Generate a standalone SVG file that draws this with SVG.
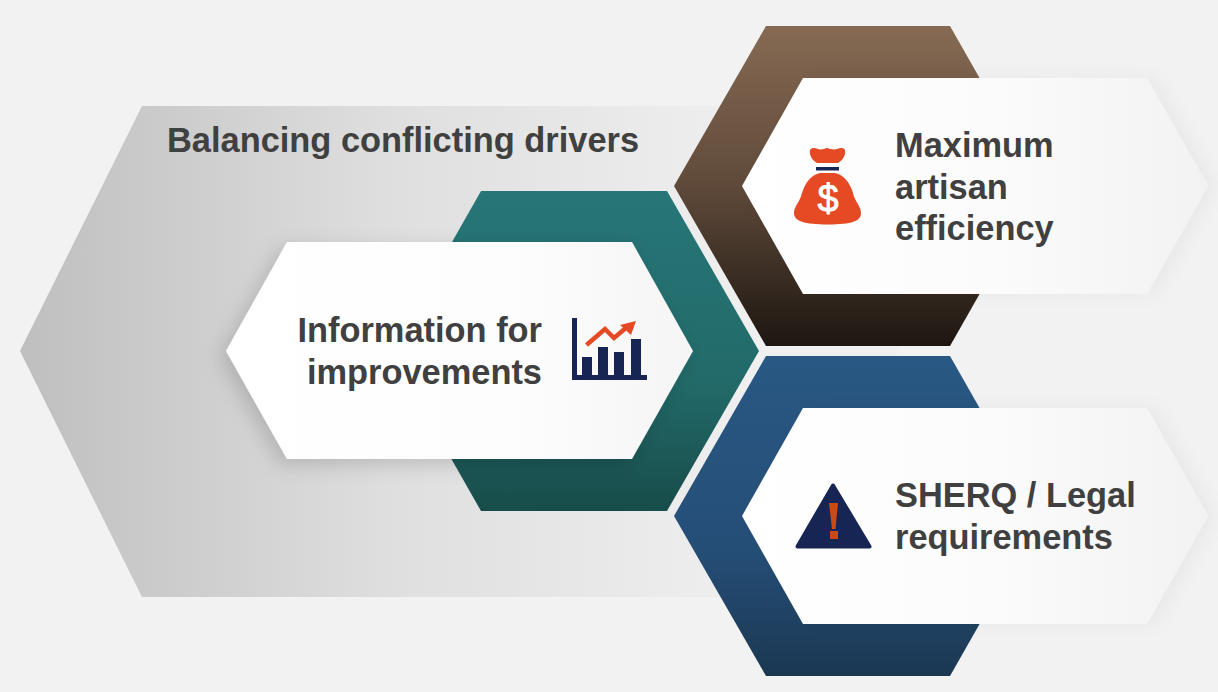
<svg xmlns="http://www.w3.org/2000/svg" width="1218" height="692" viewBox="0 0 1218 692">
<style>
text{font-family:"Liberation Sans",Arial,sans-serif;font-weight:700;font-size:34.4px;fill:#404040}
.e{text-anchor:end}
.navy{fill:#172554}
.org{fill:#e64a24}
</style>
<defs>
<linearGradient id="gGrey" gradientUnits="userSpaceOnUse" x1="20" y1="0" x2="770" y2="0"><stop offset="0" stop-color="#bfbfbf"/><stop offset="0.5" stop-color="#dfdfdf"/><stop offset="1" stop-color="#f0f0f0"/></linearGradient>
<linearGradient id="gTeal" x1="0" y1="0" x2="0" y2="1"><stop offset="0" stop-color="#277677"/><stop offset="0.6" stop-color="#226a69"/><stop offset="1" stop-color="#174c4a"/></linearGradient>
<linearGradient id="gBrown" x1="0" y1="0" x2="0" y2="1"><stop offset="0" stop-color="#866a53"/><stop offset="0.5" stop-color="#5f4a3a"/><stop offset="1" stop-color="#1d1611"/></linearGradient>
<linearGradient id="gBlue" x1="0" y1="0" x2="0" y2="1"><stop offset="0" stop-color="#295884"/><stop offset="0.6" stop-color="#254e77"/><stop offset="1" stop-color="#1b3852"/></linearGradient>
<linearGradient id="gWhite" x1="0" y1="0" x2="1" y2="0"><stop offset="0" stop-color="#ffffff"/><stop offset="0.55" stop-color="#fbfbfb"/><stop offset="1" stop-color="#f2f2f2"/></linearGradient>
<linearGradient id="gWhiteL" x1="0" y1="0" x2="1" y2="0"><stop offset="0" stop-color="#ffffff"/><stop offset="0.6" stop-color="#fdfdfd"/><stop offset="1" stop-color="#f5f5f5"/></linearGradient>
<filter id="sh" x="-15%" y="-20%" width="130%" height="140%"><feDropShadow dx="-6" dy="6" stdDeviation="10" flood-color="#000" flood-opacity="0.16"/></filter>
<filter id="shR" x="-15%" y="-20%" width="130%" height="140%"><feDropShadow dx="7" dy="0" stdDeviation="9" flood-color="#000" flood-opacity="0.045"/></filter>
</defs>
<rect id="background" width="1218" height="692" fill="#f2f2f2"/>
<g id="connectors"/>
<g id="balancing">
<polygon points="20,351 142,106 780,106 900,351 780,597 142,597" fill="url(#gGrey)"/>
<text x="167" y="152">Balancing conflicting drivers</text>
</g>
<g id="information">
<polygon points="390,351 481,191 667,191 759,351 667,511 481,511" fill="url(#gTeal)"/>
<polygon points="226,351 287,242 632,242 693,351 632,459 287,459" fill="url(#gWhiteL)" filter="url(#sh)"/>
<text class="e" x="542" y="342">Information for</text>
<text class="e" x="542" y="384">improvements</text>
<g id="chart-icon">
<rect class="navy" x="572" y="318" width="5" height="62"/>
<rect class="navy" x="572" y="375" width="75" height="5"/>
<rect class="navy" x="582" y="357" width="10" height="20"/>
<rect class="navy" x="598" y="347" width="10" height="30"/>
<rect class="navy" x="614" y="352" width="10" height="25"/>
<rect class="navy" x="631" y="339" width="10" height="38"/>
<polyline points="586.500,345 605,329 614,338 627,327" fill="none" stroke="#e64a24" stroke-width="4.500"/>
<polygon class="org" points="636,321 620,325 631,335"/>
</g>
</g>
<g id="efficiency">
<polygon points="674,186 766,26 950,26 1041,186 950,346 766,346" fill="url(#gBrown)"/>
<polygon points="742,186 803,78 1147,78 1208,186 1147,294 803,294" fill="url(#gWhite)" filter="url(#shR)"/>
<text x="895" y="157">Maximum</text>
<text x="895" y="199">artisan</text>
<text x="895" y="240">efficiency</text>
<g id="money-icon">
<path class="org" d="M810,150 C812,147 815,148 818,149 C821,150 824,149 827,148 C830,149 834,150 837,149 C840,148 843,147 845,150 C846,155 843,160 838,163 L817,163 C812,160 809,155 810,150 Z"/>
<rect class="navy" x="816" y="167" width="23" height="3.500"/>
<path class="org" d="M820,173 L835,173 C844,175 850,183 853,193 C855,202 861,206 861,213 C861,221 852,224.500 828,224.500 C804,224.500 794,221 794,213 C794,206 800,202 802,193 C805,183 811,175 820,173 Z"/>
<text x="828" y="212" text-anchor="middle" style="fill:#fff;font-size:38px;font-weight:400;stroke:#fff;stroke-width:.8">$</text>
</g>
</g>
<g id="sherq">
<polygon points="674,516 766,356 950,356 1041,516 950,676 766,676" fill="url(#gBlue)"/>
<polygon points="742,516 803,408 1147,408 1208,516 1147,624 803,624" fill="url(#gWhite)" filter="url(#shR)"/>
<text x="895" y="507">SHERQ / Legal</text>
<text x="895" y="549">requirements</text>
<g id="warning-icon">
<polygon class="navy" points="833,485.500 869.500,546.500 797.500,546.500" stroke="#172554" stroke-width="4" stroke-linejoin="round"/>
<polygon points="829,503 838,503 835.500,529 832,529" fill="#cc4a12"/>
<rect x="830" y="531" width="8" height="8" fill="#cc4a12"/>
</g>
</g>
</svg>
